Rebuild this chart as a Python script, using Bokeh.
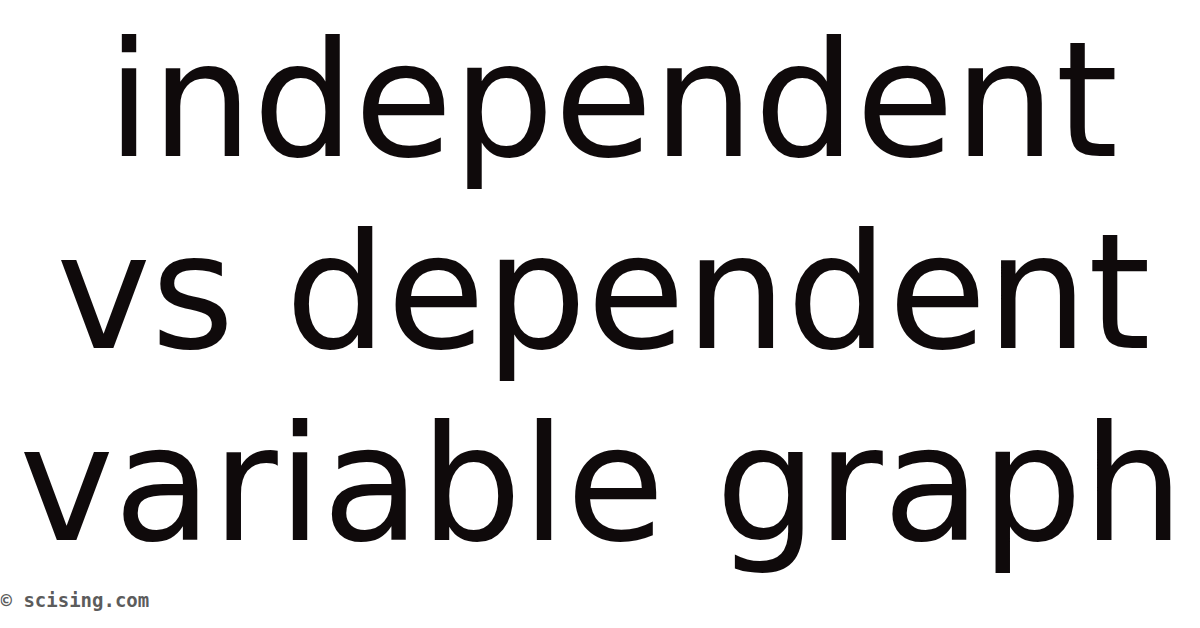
from bokeh.plotting import figure
from bokeh.models import Range1d, ColumnDataSource
from bokeh.core.properties import value
from bokeh.embed import file_html
from bokeh.resources import INLINE

# Content
title_lines = ["independent", "vs dependent", "variable graph"]
watermark = "© scising.com"

# Layout (page pixel coordinates)
line_x = [620, 611, 609]
line_y = [108, 300, 492]

W, H = 1184, 612
p = figure(width=W, height=H, output_backend="svg", toolbar_location=None,
           x_range=Range1d(8, 8 + W), y_range=Range1d(8 + H, 8),
           min_border=0, background_fill_color="white", border_fill_color="white")
p.axis.visible = False
p.grid.visible = False
p.outline_line_color = None

src = ColumnDataSource(dict(x=line_x, y=line_y, t=title_lines))
p.text(x="x", y="y", text="t", source=src, text_align="center", text_baseline="alphabetic",
       text_font=value("DejaVu Sans"), text_font_size="160px", text_color="#0f0a0b")

p.text(x=[8], y=[607], text=[watermark], text_align="left", text_baseline="middle",
       text_font=value("DejaVu Sans Mono"), text_font_size="19px", text_color="#5c5c5c",
       text_font_style="bold")

open("out.html", "w").write(file_html(p, INLINE))
